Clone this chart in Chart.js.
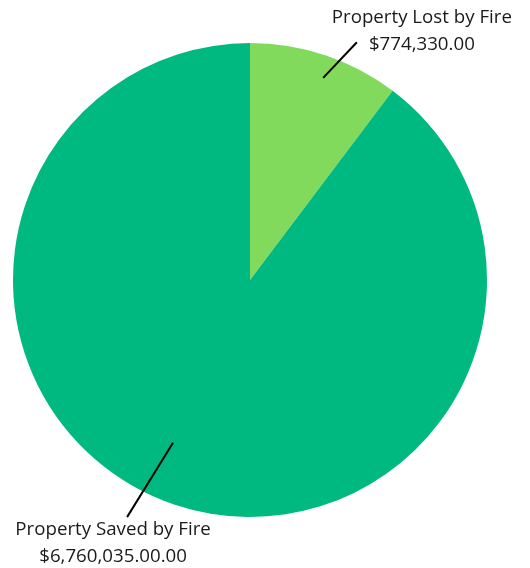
<!DOCTYPE html>
<html>
<head>
<meta charset="utf-8">
<script src="https://cdn.jsdelivr.net/npm/chart.js@4/dist/chart.umd.min.js"></script>
<style>
  html, body { margin: 0; padding: 0; background: #fff; }
  #c { display: block; }
</style>
</head>
<body>
<canvas id="c" width="530" height="568"></canvas>
<script>
const categories = ['Property Lost by Fire', 'Property Saved by Fire'];
const values = [774330, 6760035];
const valueLabels = ['$774,330.00', '$6,760,035.00.00'];
const colors = ['#82da5c', '#00b980'];

// leader line: inner point (angle offset deg, radius fraction), outer point, text anchor offset
const leaders = [
  { a0: 1.4, r0: 0.907, a1: 5.7, r1: 1.10, tx: 65, ty: -25 },
  { a0: 6.8, r0: 0.76, a1: 8.9, r1: 1.127, tx: -14, ty: 13 }
];

const calloutPlugin = {
  id: 'callouts',
  afterDatasetsDraw(chart) {
    const ctx = chart.ctx;
    const meta = chart.getDatasetMeta(0);
    meta.data.forEach((arc, i) => {
      const L = leaders[i];
      const mid = (arc.startAngle + arc.endAngle) / 2;
      const p = (deg, rf) => {
        const ang = mid + deg * Math.PI / 180;
        return [arc.x + Math.cos(ang) * arc.outerRadius * rf, arc.y + Math.sin(ang) * arc.outerRadius * rf];
      };
      const s = p(L.a0, L.r0), e = p(L.a1, L.r1);
      ctx.save();
      ctx.strokeStyle = '#000';
      ctx.lineWidth = 2;
      ctx.beginPath();
      ctx.moveTo(s[0], s[1]);
      ctx.lineTo(e[0], e[1]);
      ctx.stroke();
      ctx.fillStyle = '#1a1a1a';
      ctx.font = '18.7px "Open Sans"';
      ctx.textAlign = 'center';
      ctx.textBaseline = 'middle';
      const cx = e[0] + L.tx, cy = e[1] + L.ty;
      ctx.fillText(categories[i], cx, cy);
      ctx.fillText(valueLabels[i], cx, cy + 27);
      ctx.restore();
    });
  }
};

new Chart(document.getElementById('c'), {
  type: 'pie',
  data: {
    labels: categories,
    datasets: [{
      data: values,
      backgroundColor: colors,
      borderWidth: 0
    }]
  },
  options: {
    responsive: false,
    animation: false,
    layout: { padding: { left: 13, right: 43, top: 43, bottom: 51 } },
    plugins: {
      legend: { display: false },
      tooltip: { enabled: false }
    }
  },
  plugins: [calloutPlugin]
});
</script>
</body>
</html>
